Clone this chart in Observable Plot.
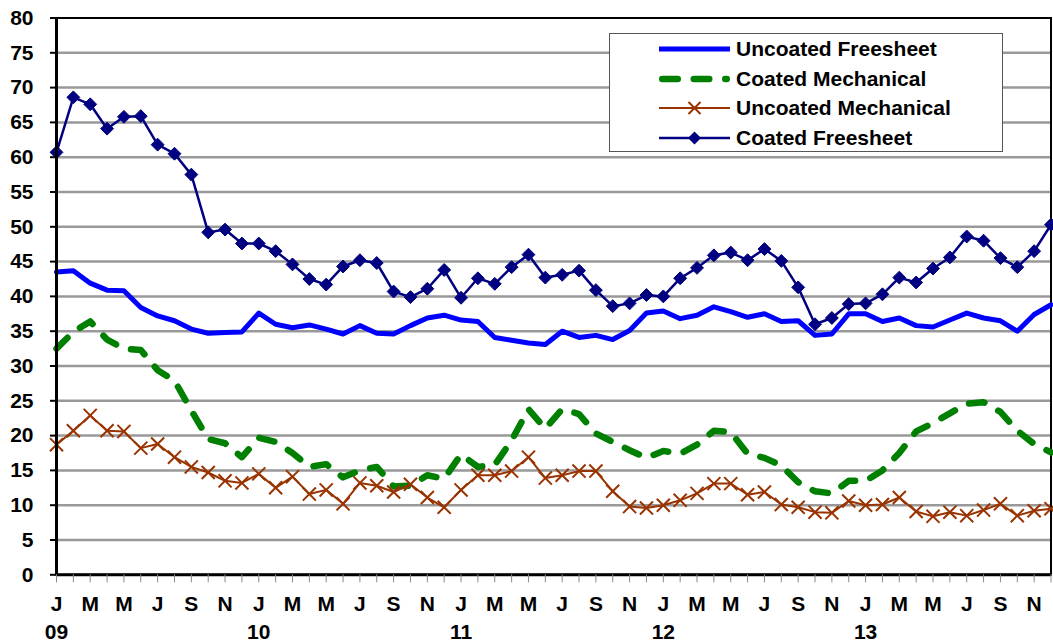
<!DOCTYPE html>
<html><head><meta charset="utf-8">
<script src="https://cdn.jsdelivr.net/npm/d3@7"></script>
<script src="https://cdn.jsdelivr.net/npm/@observablehq/plot@0.6"></script>
<style>
body{margin:0;background:#fff;}
#wrap{position:relative;width:1053px;height:641px;font-family:"Liberation Sans",Arial,sans-serif;font-weight:bold;}
#legend{position:absolute;left:609px;top:33px;width:392px;height:117px;border:1px solid #555;background:#fff;}
.row{position:absolute;left:0;height:30px;display:flex;align-items:center;font-size:21px;color:#000;white-space:nowrap;}
.row svg{margin-left:49px;margin-right:6px;}
</style></head><body><div id="wrap"></div>
<script>
const monthLetters = ["J","M","M","J","S","N"];
const yearLabels = ["09","10","11","12","13"];
const seriesNames = ["Uncoated Freesheet","Coated Mechanical","Uncoated Mechanical","Coated Freesheet"];
const seriesColors = ["#0000FF","#008000","#993300","#000080"];

const uncoatedFreesheet = [43.5,43.7,41.9,40.9,40.8,38.4,37.2,36.5,35.3,34.7,34.8,34.9,37.6,36.0,35.5,35.9,35.3,34.6,35.8,34.7,
  34.6,35.8,36.9,37.3,36.6,36.4,34.1,33.7,33.3,33.1,35.0,34.1,34.4,33.8,35.1,37.6,37.9,36.8,37.3,38.5,
  37.8,37.0,37.5,36.4,36.5,34.4,34.6,37.5,37.5,36.4,36.9,35.8,35.6,36.6,37.6,36.9,36.5,35.0,37.4,38.8];
const coatedMechanical = [32.5,34.9,36.4,33.8,32.5,32.3,29.4,27.9,23.6,19.5,18.9,16.9,19.7,19.1,17.5,15.5,15.9,14.0,15.0,15.5,
  12.7,12.8,14.3,13.8,17.3,15.5,15.8,19.3,23.8,21.0,23.8,23.1,20.3,19.1,17.9,16.8,17.8,17.4,18.7,20.7,
  20.5,17.4,16.8,15.7,13.3,12.0,11.7,13.5,13.5,15.0,17.5,20.6,21.8,23.2,24.6,24.8,23.4,20.7,18.8,17.6];
const uncoatedMechanical = [18.7,20.7,22.9,20.7,20.6,18.2,18.8,16.9,15.5,14.7,13.5,13.2,14.5,12.5,14.1,11.6,12.2,10.2,13.2,12.8,
  11.9,13.0,11.1,9.7,12.2,14.3,14.3,14.9,16.9,13.9,14.3,14.9,14.9,12.0,9.8,9.6,10.0,10.7,11.7,13.1,
  13.1,11.5,11.9,10.1,9.7,9.0,8.9,10.6,10.0,10.1,11.1,9.1,8.4,9.0,8.5,9.3,10.2,8.5,9.2,9.5];
const coatedFreesheet = [60.7,68.6,67.6,64.1,65.8,65.9,61.8,60.5,57.5,49.2,49.6,47.6,47.6,46.5,44.6,42.5,41.7,44.3,45.2,44.8,
  40.7,39.9,41.1,43.8,39.8,42.6,41.8,44.2,46.0,42.7,43.1,43.7,40.9,38.6,39.0,40.2,40.0,42.6,44.1,45.9,
  46.3,45.2,46.8,45.1,41.3,36.0,36.9,38.9,39.0,40.3,42.7,42.0,44.0,45.6,48.6,48.0,45.5,44.2,46.5,50.3];

const yTicks = d3.range(0, 85, 5);
const gridValues = d3.range(5, 80, 5);
const nMonths = uncoatedFreesheet.length;

const toRows = (arr) => arr.map((v, i) => ({i, v}));
const uf = toRows(uncoatedFreesheet), cm = toRows(coatedMechanical),
      um = toRows(uncoatedMechanical), cf = toRows(coatedFreesheet);

const dashPattern = "15.5 16";

const chart = Plot.plot({
  width: 1053, height: 641,
  marginLeft: 56, marginRight: 2.5, marginTop: 17.5, marginBottom: 66.7,
  style: {fontFamily: '"Liberation Sans", Arial, sans-serif', fontWeight: "bold", fontSize: "21px", color: "#000", background: "#fff", overflow: "visible"},
  x: {domain: [0, nMonths - 1]},
  y: {domain: [0, 80]},
  marks: [
    Plot.ruleY(gridValues, {stroke: "#999", strokeWidth: 2.5}),
    Plot.frame({stroke: "#000", strokeWidth: 2}),
    Plot.line(uf, {x: "i", y: "v", stroke: seriesColors[0], strokeWidth: 5, strokeLinejoin: "round"}),
    Plot.line(cm, {x: "i", y: "v", stroke: seriesColors[1], strokeWidth: 6.5, strokeDasharray: dashPattern, strokeLinecap: "round", strokeLinejoin: "round"}),
    Plot.line(um, {x: "i", y: "v", stroke: seriesColors[2], strokeWidth: 2}),
    Plot.dot(um, {x: "i", y: "v", symbol: "times", r: 6, stroke: seriesColors[2], strokeWidth: 2}),
    Plot.line(cf, {x: "i", y: "v", stroke: seriesColors[3], strokeWidth: 2.5}),
    Plot.dot(cf, {x: "i", y: "v", symbol: "diamond2", r: 5.8, fill: seriesColors[3], stroke: seriesColors[3], strokeWidth: 1}),
    Plot.ruleX([0], {stroke: "#000", strokeWidth: 3}),
    Plot.ruleY([0], {stroke: "#000", strokeWidth: 3}),
    Plot.axisY({ticks: yTicks, tickSize: 6, tickPadding: 17, stroke: "#000", strokeWidth: 2, fill: "#000", fontSize: 21, fontWeight: "bold", label: null}),
    Plot.axisX({ticks: d3.range(nMonths), tickSize: 8, tickFormat: () => "", stroke: "#888", strokeWidth: 1, label: null}),
    Plot.axisX({ticks: d3.range(0, nMonths, 2), tickSize: 0, tickPadding: 21, tickFormat: (i) => monthLetters[(i / 2) % 6], fill: "#000", fontSize: 21, fontWeight: "bold", label: null}),
    Plot.axisX({ticks: d3.range(0, nMonths, 12), tickSize: 0, tickPadding: 49, tickFormat: (i) => yearLabels[i / 12], fill: "#000", fontSize: 21, fontWeight: "bold", label: null})
  ]
});

const wrap = document.getElementById("wrap");
wrap.appendChild(chart);

// legend
const legend = document.createElement("div");
legend.id = "legend";
wrap.appendChild(legend);
const ns = "http://www.w3.org/2000/svg";
seriesNames.forEach((name, k) => {
  const row = document.createElement("div");
  row.className = "row";
  row.style.top = (k * 29.7) + "px";
  const svg = d3.create("svg").attr("width", 71).attr("height", 30);
  const ln = svg.append("line").attr("x1", k === 1 ? 3.25 : 0).attr("x2", k === 1 ? 67.75 : 71)
    .attr("y1", 15).attr("y2", 15).attr("stroke", seriesColors[k]);
  if (k === 0) ln.attr("stroke-width", 5);
  if (k === 1) ln.attr("stroke-width", 6.5).attr("stroke-dasharray", dashPattern).attr("stroke-linecap", "round");
  if (k === 2) {
    ln.attr("stroke-width", 2);
    svg.append("path").attr("d", "M29.5,9L41.5,21M29.5,21L41.5,9").attr("stroke", seriesColors[2]).attr("stroke-width", 2);
  }
  if (k === 3) {
    ln.attr("stroke-width", 2.5);
    svg.append("path").attr("d", "M35.5,8.5L42,15L35.5,21.5L29,15Z").attr("fill", seriesColors[3]);
  }
  row.appendChild(svg.node());
  const span = document.createElement("span");
  span.textContent = name;
  row.appendChild(span);
  legend.appendChild(row);
});
</script>
</body></html>
